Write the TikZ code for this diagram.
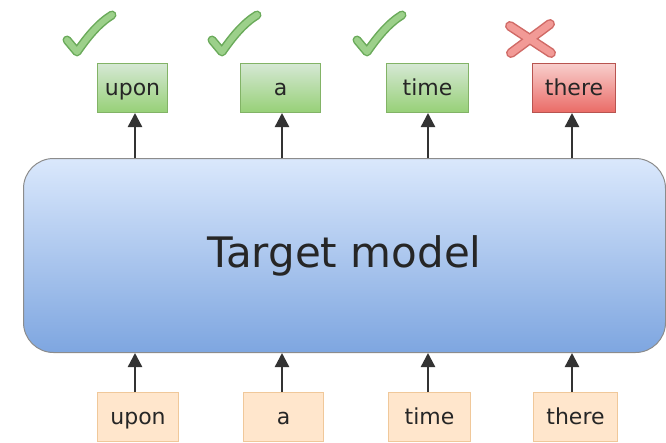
\documentclass[tikz,border=0pt]{standalone}
\usepackage{fontspec}
\setmainfont{DejaVu Sans}
\usetikzlibrary{arrows.meta}
\definecolor{blueTop}{HTML}{DAE8FC}
\definecolor{blueBot}{HTML}{7EA6E0}
\definecolor{greenTop}{HTML}{D5E8D4}
\definecolor{greenBot}{HTML}{97D077}
\definecolor{greenLine}{HTML}{82B366}
\definecolor{redTop}{HTML}{F8CECC}
\definecolor{redBot}{HTML}{EA6B66}
\definecolor{redLine}{HTML}{B85450}
\definecolor{orangeFill}{HTML}{FFE6CC}
\definecolor{orangeLine}{HTML}{F0C89A}
\definecolor{tickFill}{HTML}{9CD08A}
\definecolor{tickLine}{HTML}{6AAA5A}
\definecolor{crossFill}{HTML}{F29A96}
\definecolor{crossLine}{HTML}{D06A66}
\tikzset{
  word/.style={draw, line width=1pt, minimum height=49pt, inner sep=0pt,
    text height=16pt, text depth=2pt,
    font=\fontsize{22}{24}\selectfont, text=black!85},
  outword/.style={word, top color=greenTop, bottom color=greenBot, draw=greenLine},
  badword/.style={word, top color=redTop, bottom color=redBot, draw=redLine},
  inword/.style={word, fill=orangeFill, draw=orangeLine},
  flow/.style={-{Triangle[length=14pt,width=14pt]}, line width=2.4pt, draw=black!80},
}
\begin{document}
\begin{tikzpicture}[x=1pt, y=-1pt]
\useasboundingbox (0,0) rectangle (666,442);
% model block
\node[draw=black!45, line width=1pt, rounded corners=30pt,
  top color=blueTop, bottom color=blueBot,
  minimum width=642pt, minimum height=194pt, anchor=north west,
  font=\fontsize{42}{46}\selectfont, text=black!85] (model) at (23,158) {Target model};
% predicted tokens
\node[outword, minimum width=70pt, anchor=north west] (o1) at (97,63) {upon};
\node[outword, minimum width=80pt, anchor=north west] (o2) at (240,63) {a};
\node[outword, minimum width=82pt, anchor=north west] (o3) at (386,63) {time};
\node[badword, minimum width=83pt, anchor=north west] (o4) at (532,63) {there};
% input tokens
\node[inword, minimum width=81pt, anchor=north west] (i1) at (97,392) {upon};
\node[inword, minimum width=80pt, anchor=north west] (i2) at (243,392) {a};
\node[inword, minimum width=82pt, anchor=north west] (i3) at (388,392) {time};
\node[inword, minimum width=84pt, anchor=north west] (i4) at (533,392) {there};
% arrows into and out of the model
\foreach \x/\o/\i in {135/o1/i1, 282/o2/i2, 428/o3/i3, 572/o4/i4} {
  \draw[flow] (\i.north -| \x,0) -- (model.south -| \x,0);
  \draw[flow] (model.north -| \x,0) -- (\o.south -| \x,0);
}
% verdict marks
\foreach \x in {0,145,290} {
  \begin{scope}[xshift=\x pt]
    \draw[tickLine, line width=9pt, line cap=round, line join=round]
      (67,40) -- (77,52) .. controls (88,36) and (99,23) .. (112,15);
    \draw[tickFill, line width=6pt, line cap=round, line join=round]
      (67,40) -- (77,52) .. controls (88,36) and (99,23) .. (112,15);
  \end{scope}
}
\draw[crossLine, line width=10pt, line cap=round] (510,26) -- (551,53) (550,24) -- (511,53);
\draw[crossFill, line width=7pt, line cap=round] (510,26) -- (551,53) (550,24) -- (511,53);
\end{tikzpicture}
\end{document}
